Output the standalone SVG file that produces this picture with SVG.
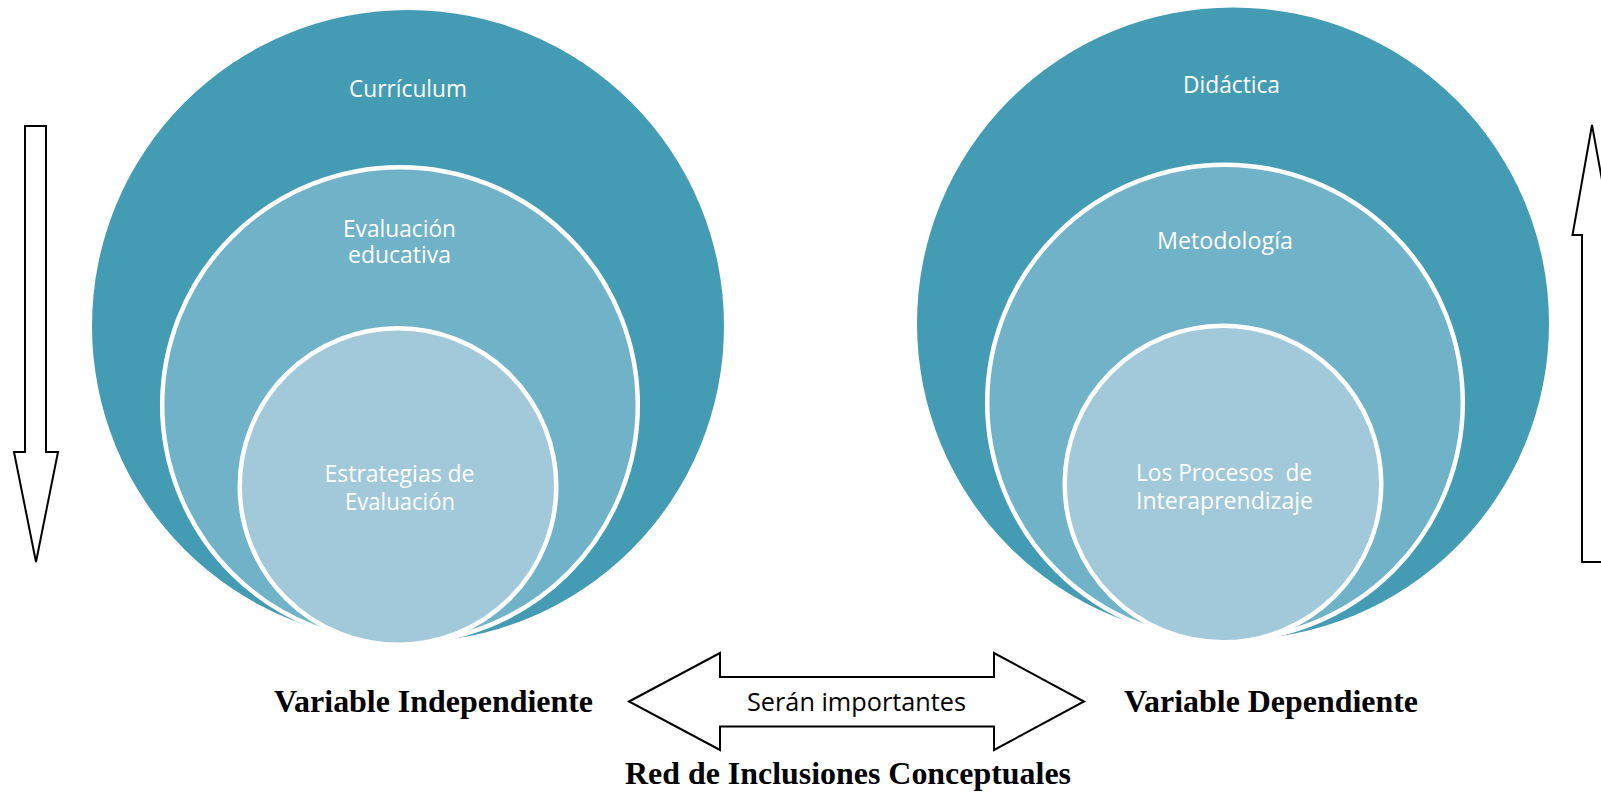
<svg xmlns="http://www.w3.org/2000/svg" width="1601" height="795" viewBox="0 0 1601 795">
  <style>
    .outer { fill: #449bb4; }
    .mid { fill: #70b2c8; stroke: #ffffff; stroke-width: 4.5; }
    .inner { fill: #a2c9da; stroke: #ffffff; stroke-width: 4.5; }
    .lbl { font-family: "Open Sans", "Noto Sans", sans-serif; font-size: 23.5px; fill: #ffffff; text-anchor: middle; }
    .cap { font-family: "Liberation Serif", "Times New Roman", serif; font-weight: bold; font-size: 31px; fill: #000000; text-anchor: middle; }
    .arrow { fill: #ffffff; stroke: #000000; stroke-width: 2; stroke-linejoin: miter; }
    .alabel { font-family: "Open Sans", "Noto Sans", sans-serif; font-size: 26px; fill: #000000; text-anchor: middle; }
  </style>
  <rect width="1601" height="795" fill="#ffffff"/>

  <g id="curriculum">
    <circle class="outer" cx="408" cy="326" r="316"/>
    <text class="lbl" x="408" y="96.5" textLength="118" lengthAdjust="spacingAndGlyphs">Currículum</text>
  </g>
  <g id="evaluacion-educativa">
    <circle class="mid" cx="400" cy="405" r="237.8"/>
    <text class="lbl" x="399.5" y="237" textLength="113" lengthAdjust="spacingAndGlyphs">Evaluación</text>
    <text class="lbl" x="399.5" y="263" textLength="103" lengthAdjust="spacingAndGlyphs">educativa</text>
  </g>
  <g id="estrategias-evaluacion">
    <circle class="inner" cx="398" cy="486.5" r="158.3"/>
    <text class="lbl" x="399.5" y="482" textLength="150" lengthAdjust="spacingAndGlyphs">Estrategias de</text>
    <text class="lbl" x="400" y="510" textLength="110" lengthAdjust="spacingAndGlyphs">Evaluación</text>
  </g>

  <g id="didactica">
    <circle class="outer" cx="1233" cy="323.5" r="316"/>
    <text class="lbl" x="1231.5" y="93" textLength="97" lengthAdjust="spacingAndGlyphs">Didáctica</text>
  </g>
  <g id="metodologia">
    <circle class="mid" cx="1225" cy="402.5" r="237.8"/>
    <text class="lbl" x="1225" y="249" textLength="136" lengthAdjust="spacingAndGlyphs">Metodología</text>
  </g>
  <g id="procesos-interaprendizaje">
    <circle class="inner" cx="1223" cy="484" r="158.3"/>
    <text class="lbl" x="1224" y="480.5" textLength="176" lengthAdjust="spacingAndGlyphs" xml:space="preserve">Los Procesos  de</text>
    <text class="lbl" x="1224.5" y="508.5" textLength="177" lengthAdjust="spacingAndGlyphs">Interaprendizaje</text>
  </g>

  <g id="connectors">
    <polygon class="arrow" points="25,126 46,126 46,452 58,452 36,562 14,452 25,452"/>
    <polygon class="arrow" points="1592,125 1612,235 1602,235 1602,562 1582,562 1582,235 1572.5,235"/>
    <polygon class="arrow" points="629,701.5 720,653 720,677 994,677 994,653 1084,701.5 994,750 994,726.5 720,726.5 720,750"/>
  </g>

  <g id="serian-importantes">
    <text class="alabel" x="856.5" y="711" textLength="219" lengthAdjust="spacingAndGlyphs">Serán importantes</text>
  </g>
  <g id="variable-independiente">
    <text class="cap" x="433.5" y="712" textLength="319" lengthAdjust="spacingAndGlyphs">Variable Independiente</text>
  </g>
  <g id="variable-dependiente">
    <text class="cap" x="1271" y="712" textLength="294" lengthAdjust="spacingAndGlyphs">Variable Dependiente</text>
  </g>
  <g id="red-inclusiones">
    <text class="cap" x="848" y="784" textLength="446" lengthAdjust="spacingAndGlyphs">Red de Inclusiones Conceptuales</text>
  </g>
</svg>
